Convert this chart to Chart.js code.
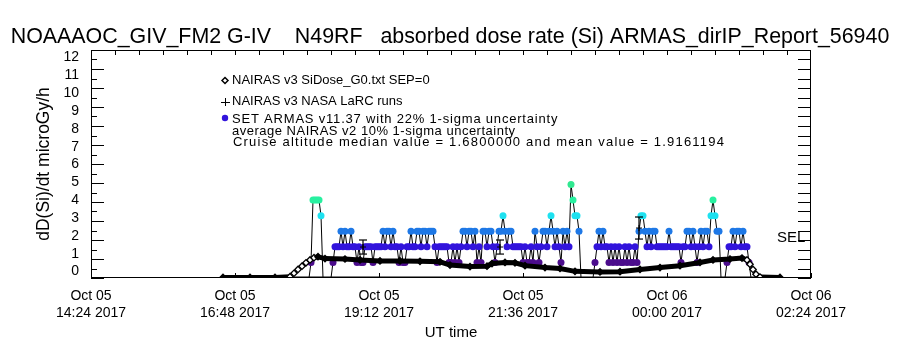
<!DOCTYPE html>
<html>
<head>
<meta charset="utf-8">
<script src="https://cdn.jsdelivr.net/npm/chart.js@4.4.1/dist/chart.umd.min.js"></script>
<style>
html, body { margin: 0; padding: 0; background: #fff; }
</style>
</head>
<body>
<canvas id="miGrafico" width="900" height="350"></canvas>
<script>
// x values are minutes after Oct 05 14:24 UT
const tickMinutes = [0, 144, 288, 432, 576, 720];
const tickLabels = [
    ['Oct 05', '14:24 2017'],
    ['Oct 05', '16:48 2017'],
    ['Oct 05', '19:12 2017'],
    ['Oct 05', '21:36 2017'],
    ['Oct 06', '00:00 2017'],
    ['Oct 06', '02:24 2017']
];
const yTickValues = [0, 1, 2, 3, 4, 5, 6, 7, 8, 9, 10, 11, 12];

// NAIRAS v3 SiDose_G0 (diamonds)
const nairasTime = [132, 159, 184, 199, 203, 207, 211, 215, 219, 223, 227, 234, 254, 269, 289, 309, 329, 349, 359, 379,
    396, 401, 414, 424, 434, 454, 469, 484, 509, 529, 549, 569, 589, 609, 622, 639, 651, 656, 659, 662, 665, 669, 689];
const nairasDose = [0.03, 0.03, 0.03, 0.07, 0.25, 0.45, 0.62, 0.8, 0.95, 1.07, 1.12, 1.02, 1.0, 0.95, 0.9, 0.9, 0.88, 0.85, 0.68, 0.6,
    0.62, 0.76, 0.82, 0.8, 0.65, 0.55, 0.5, 0.35, 0.32, 0.33, 0.45, 0.55, 0.65, 0.82, 0.95, 1.0, 1.05, 0.95, 0.72, 0.45, 0.2, 0.05, 0.03];

// SEP=0 run along the bottom
const sepTime = [132, 689];
const sepDose = [0.0, 0.0];

// ARMAS samples, one every 2 minutes from armasStart (plus the lead-in point)
const armasLeadTime = 114;
const armasStart = 218;
const armasDose = [
    0, 0.82, 4.1, 4.1, 4.1, 4.1, 3.28, 0, 0, 0,
    0, 0, 0.82, 1.64, 1.64, 1.64, 2.46, 1.64, 2.46, 1.64,
    1.64, 2.46, 1.64, 1.64, 0.82, 1.64, 0.82, 0.82, 1.64, 1.64,
    1.64, 1.64, 0.82, 1.64, 1.64, 1.64, 1.64, 2.46, 1.64, 2.46,
    2.46, 1.64, 2.46, 1.64, 1.64, 0.82, 1.64, 0.82, 0.82, 1.64,
    1.64, 2.46, 1.64, 1.64, 2.46, 2.46, 1.64, 2.46, 2.46, 1.64,
    2.46, 2.46, 2.46, 1.64, 0.82, 1.64, 1.64, 1.64, 1.64, 1.64,
    0.82, 0.82, 1.64, 0.82, 1.64, 0.82, 1.64, 2.46, 2.46, 1.64,
    2.46, 2.46, 1.64, 2.46, 0.82, 1.64, 0.82, 2.46, 2.46, 1.64,
    2.46, 2.46, 1.64, 0.82, 1.64, 2.46, 2.46, 3.28, 2.46, 1.64,
    2.46, 2.46, 1.64, 1.64, 1.64, 1.64, 1.64, 0.82, 1.64, 0.82,
    0.82, 1.64, 0.82, 2.46, 1.64, 0.82, 1.64, 2.46, 2.46, 1.64,
    2.46, 3.28, 2.46, 1.64, 2.46, 1.64, 0.82, 2.46, 1.64, 2.46,
    1.64, 4.92, 4.1, 3.28, 3.28, 2.46, 0, 0, 0, 0,
    0, 0, 0, 0.82, 1.64, 2.46, 1.64, 2.46, 1.64, 1.64,
    0.82, 1.64, 0.82, 1.64, 0.82, 1.64, 0.82, 0.82, 1.64, 0.82,
    1.64, 0.82, 0.82, 1.64, 0.82, 2.46, 3.28, 3.28, 2.46, 1.64,
    2.46, 1.64, 2.46, 2.46, 1.64, 1.64, 1.64, 1.64, 1.64, 1.64,
    2.46, 1.64, 1.64, 1.64, 1.64, 1.64, 0.82, 1.64, 1.64, 2.46,
    2.46, 1.64, 2.46, 1.64, 0.82, 1.64, 2.46, 1.64, 2.46, 2.46,
    1.64, 3.28, 4.1, 3.28, 2.46, 2.46, 0, 0, 0, 0.82,
    1.64, 1.64, 2.46, 1.64, 2.46, 2.46, 1.64, 2.46, 1.64, 1.64,
    0.82, 0
];

// NAIRAS v3 NASA LaRC runs with error bars
const larcTime = [272, 409, 548];
const larcDose = [1.63, 1.63, 2.63];
const larcLow = [1.26, 1.26, 2.05];
const larcHigh = [2.0, 2.0, 3.21];

const levelColors = { '0.82': '#4b0c8c', '1.64': '#3214dc', '2.46': '#1e78e6', '3.28': '#1ee1f0', '4.1': '#28f0a0', '4.92': '#30e890' };

const fontFam = '"Liberation Sans", "DejaVu Sans", sans-serif';

const armasPts = [{ x: armasLeadTime, y: 0 }];
armasDose.forEach((v, i) => armasPts.push({ x: armasStart + 2 * i, y: v }));

const nairasPts = nairasTime.map((t, i) => ({ x: t, y: nairasDose[i] }));
const sepPts = sepTime.map((t, i) => ({ x: t, y: sepDose[i] }));

const barPts = [];
larcTime.forEach((t, i) => {
    barPts.push({ x: t, y: larcLow[i] }, { x: t, y: larcHigh[i] }, { x: t, y: null });
});
const larcPts = larcTime.map((t, i) => ({ x: t, y: larcDose[i] }));

function steep(ctx) {
    const i = ctx.dataIndex;
    const a = nairasDose[i - 1], b = nairasDose[i + 1], c = nairasDose[i];
    const s1 = a === undefined ? 0 : Math.abs(c - a) / (nairasTime[i] - nairasTime[i - 1]);
    const s2 = b === undefined ? 0 : Math.abs(b - c) / (nairasTime[i + 1] - nairasTime[i]);
    return Math.max(s1, s2) > 0.03;
}

const idlAxes = {
    id: 'idlAxes',
    afterDatasetsDraw(chart) {
        const { ctx, chartArea: a, scales: { x, y } } = chart;
        ctx.save();
        ctx.strokeStyle = '#000';
        ctx.lineWidth = 1;
        ctx.strokeRect(a.left + 0.5, a.top + 0.5, a.right - a.left - 1, a.bottom - a.top - 1);
        ctx.beginPath();
        for (let v = 0; v <= 12; v += 0.5) {
            const py = Math.round(y.getPixelForValue(v)) + 0.5;
            const len = (v % 1 === 0) ? 13 : 6;
            ctx.moveTo(a.left, py); ctx.lineTo(a.left + len, py);
            ctx.moveTo(a.right, py); ctx.lineTo(a.right - 13, py);
        }
        for (let m = 24; m < 720; m += 24) {
            const px = Math.round(x.getPixelForValue(m)) + 0.5;
            ctx.moveTo(px, a.top); ctx.lineTo(px, a.top + 5);
        }
        for (const m of tickMinutes) {
            const px = Math.round(x.getPixelForValue(m)) + 0.5;
            ctx.moveTo(px, a.bottom); ctx.lineTo(px, a.bottom - 5);
        }
        ctx.stroke();
        ctx.restore();
    },
    afterDraw(chart) {
        const ctx = chart.ctx;
        ctx.save();
        ctx.fillStyle = '#000';
        ctx.textAlign = 'center';
        ctx.textBaseline = 'alphabetic';
        ctx.font = '21.4px ' + fontFam;
        ctx.fillText('NOAAAOC_GIV_FM2 G-IV    N49RF   absorbed dose rate (Si) ARMAS_dirIP_Report_56940', 450, 43);

        ctx.textAlign = 'left';
        ctx.font = '13px ' + fontFam;
        ctx.fillText('NAIRAS v3 SiDose_G0.txt SEP=0', 232, 84);
        ctx.fillText('NAIRAS v3 NASA LaRC runs', 232, 105);
        ctx.letterSpacing = '0.8px';
        ctx.fillText('SET ARMAS v11.37 with 22% 1-sigma uncertainty', 232, 123);
        ctx.letterSpacing = '0.5px';
        ctx.fillText('average NAIRAS v2 10% 1-sigma uncertainty', 232, 135);
        ctx.letterSpacing = '1.2px';
        ctx.fillText('Cruise altitude median value = 1.6800000 and mean value = 1.9161194', 233, 146);
        ctx.letterSpacing = '0px';

        ctx.strokeStyle = '#000';
        ctx.fillStyle = '#fff';
        ctx.lineWidth = 1.5;
        ctx.beginPath();
        ctx.moveTo(225, 77.5); ctx.lineTo(228, 80.5); ctx.lineTo(225, 83.5); ctx.lineTo(222, 80.5); ctx.closePath();
        ctx.fill(); ctx.stroke();
        ctx.lineWidth = 1;
        ctx.beginPath();
        ctx.moveTo(225.5, 98); ctx.lineTo(225.5, 106); ctx.moveTo(221, 102.5); ctx.lineTo(230, 102.5);
        ctx.stroke();
        ctx.fillStyle = levelColors['1.64'];
        ctx.beginPath();
        ctx.arc(225, 118, 3.2, 0, Math.PI * 2);
        ctx.fill();

        ctx.fillStyle = '#000';
        ctx.font = '15px ' + fontFam;
        ctx.fillText('SEL', 777, 242);
        ctx.restore();
    }
};

new Chart(document.getElementById('miGrafico'), {
    type: 'line',
    data: {
        datasets: [
            {
                label: 'NAIRAS v3 SiDose_G0.txt SEP=0',
                data: nairasPts,
                borderColor: '#000',
                borderWidth: 5,
                pointStyle: 'rectRot',
                pointRadius: 3.2,
                pointBorderWidth: 1.3,
                pointBorderColor: '#000',
                pointBackgroundColor: ctx => steep(ctx) ? '#fff' : '#000',
                segment: {
                    borderWidth: ctx => Math.abs(ctx.p1.parsed.y - ctx.p0.parsed.y) / (ctx.p1.parsed.x - ctx.p0.parsed.x) > 0.03 ? 1.5 : 5
                },
                order: 1
            },
            {
                label: 'SEP=0',
                data: sepPts,
                borderColor: '#000',
                borderWidth: 3,
                pointRadius: 0,
                order: 2
            },
            {
                label: 'NAIRAS v3 NASA LaRC runs',
                data: barPts,
                borderColor: '#000',
                borderWidth: 1.2,
                pointStyle: 'line',
                pointRadius: 4,
                pointBorderWidth: 1.2,
                pointBorderColor: '#000',
                spanGaps: false,
                order: 0
            },
            {
                label: 'LaRC',
                data: larcPts,
                showLine: false,
                pointStyle: 'cross',
                pointRadius: 3,
                pointBorderColor: '#000',
                pointBorderWidth: 1,
                order: 0
            },
            {
                label: 'SET ARMAS v11.37',
                data: armasPts,
                borderColor: '#000',
                borderWidth: 1,
                pointStyle: 'circle',
                pointRadius: ctx => (ctx.raw && ctx.raw.y > 0) ? 3.5 : 0,
                pointBorderWidth: 0,
                pointBackgroundColor: ctx => levelColors[String(ctx.raw ? ctx.raw.y : 0)] || '#000',
                order: 3
            }
        ]
    },
    options: {
        responsive: false,
        animation: false,
        devicePixelRatio: 1,
        layout: { padding: { left: 0, right: 89, top: 50, bottom: 0 } },
        plugins: {
            legend: { display: false },
            tooltip: { enabled: false },
            title: { display: false }
        },
        scales: {
            x: {
                type: 'linear',
                min: 0,
                max: 720,
                afterFit: s => { s.height = 72; },
                afterBuildTicks: s => { s.ticks = tickMinutes.map(v => ({ value: v })); },
                ticks: {
                    autoSkip: false,
                    maxRotation: 0,
                    padding: 10,
                    color: '#000',
                    font: { family: fontFam, size: 14 },
                    callback: (v, i) => tickLabels[i]
                },
                grid: { display: false, drawTicks: false },
                border: { display: false },
                title: { display: true, text: 'UT time', color: '#000', font: { family: fontFam, size: 15 }, padding: { top: 0, bottom: 8 } }
            },
            y: {
                display: false,
                min: 0,
                max: 12
            },
            yLabels: {
                type: 'linear',
                position: 'left',
                min: -0.36,
                max: 12.42,
                afterFit: s => { s.width = 91; },
                afterBuildTicks: s => { s.ticks = yTickValues.map(v => ({ value: v })); },
                ticks: {
                    autoSkip: false,
                    padding: 12,
                    color: '#000',
                    font: { family: fontFam, size: 14 }
                },
                grid: { display: false, drawTicks: false },
                border: { display: false },
                title: { display: true, text: 'dD(Si)/dt microGy/h', color: '#000', font: { family: fontFam, size: 17.5 }, padding: { top: 34, bottom: 0 } }
            }
        }
    },
    plugins: [idlAxes]
});
</script>
</body>
</html>
